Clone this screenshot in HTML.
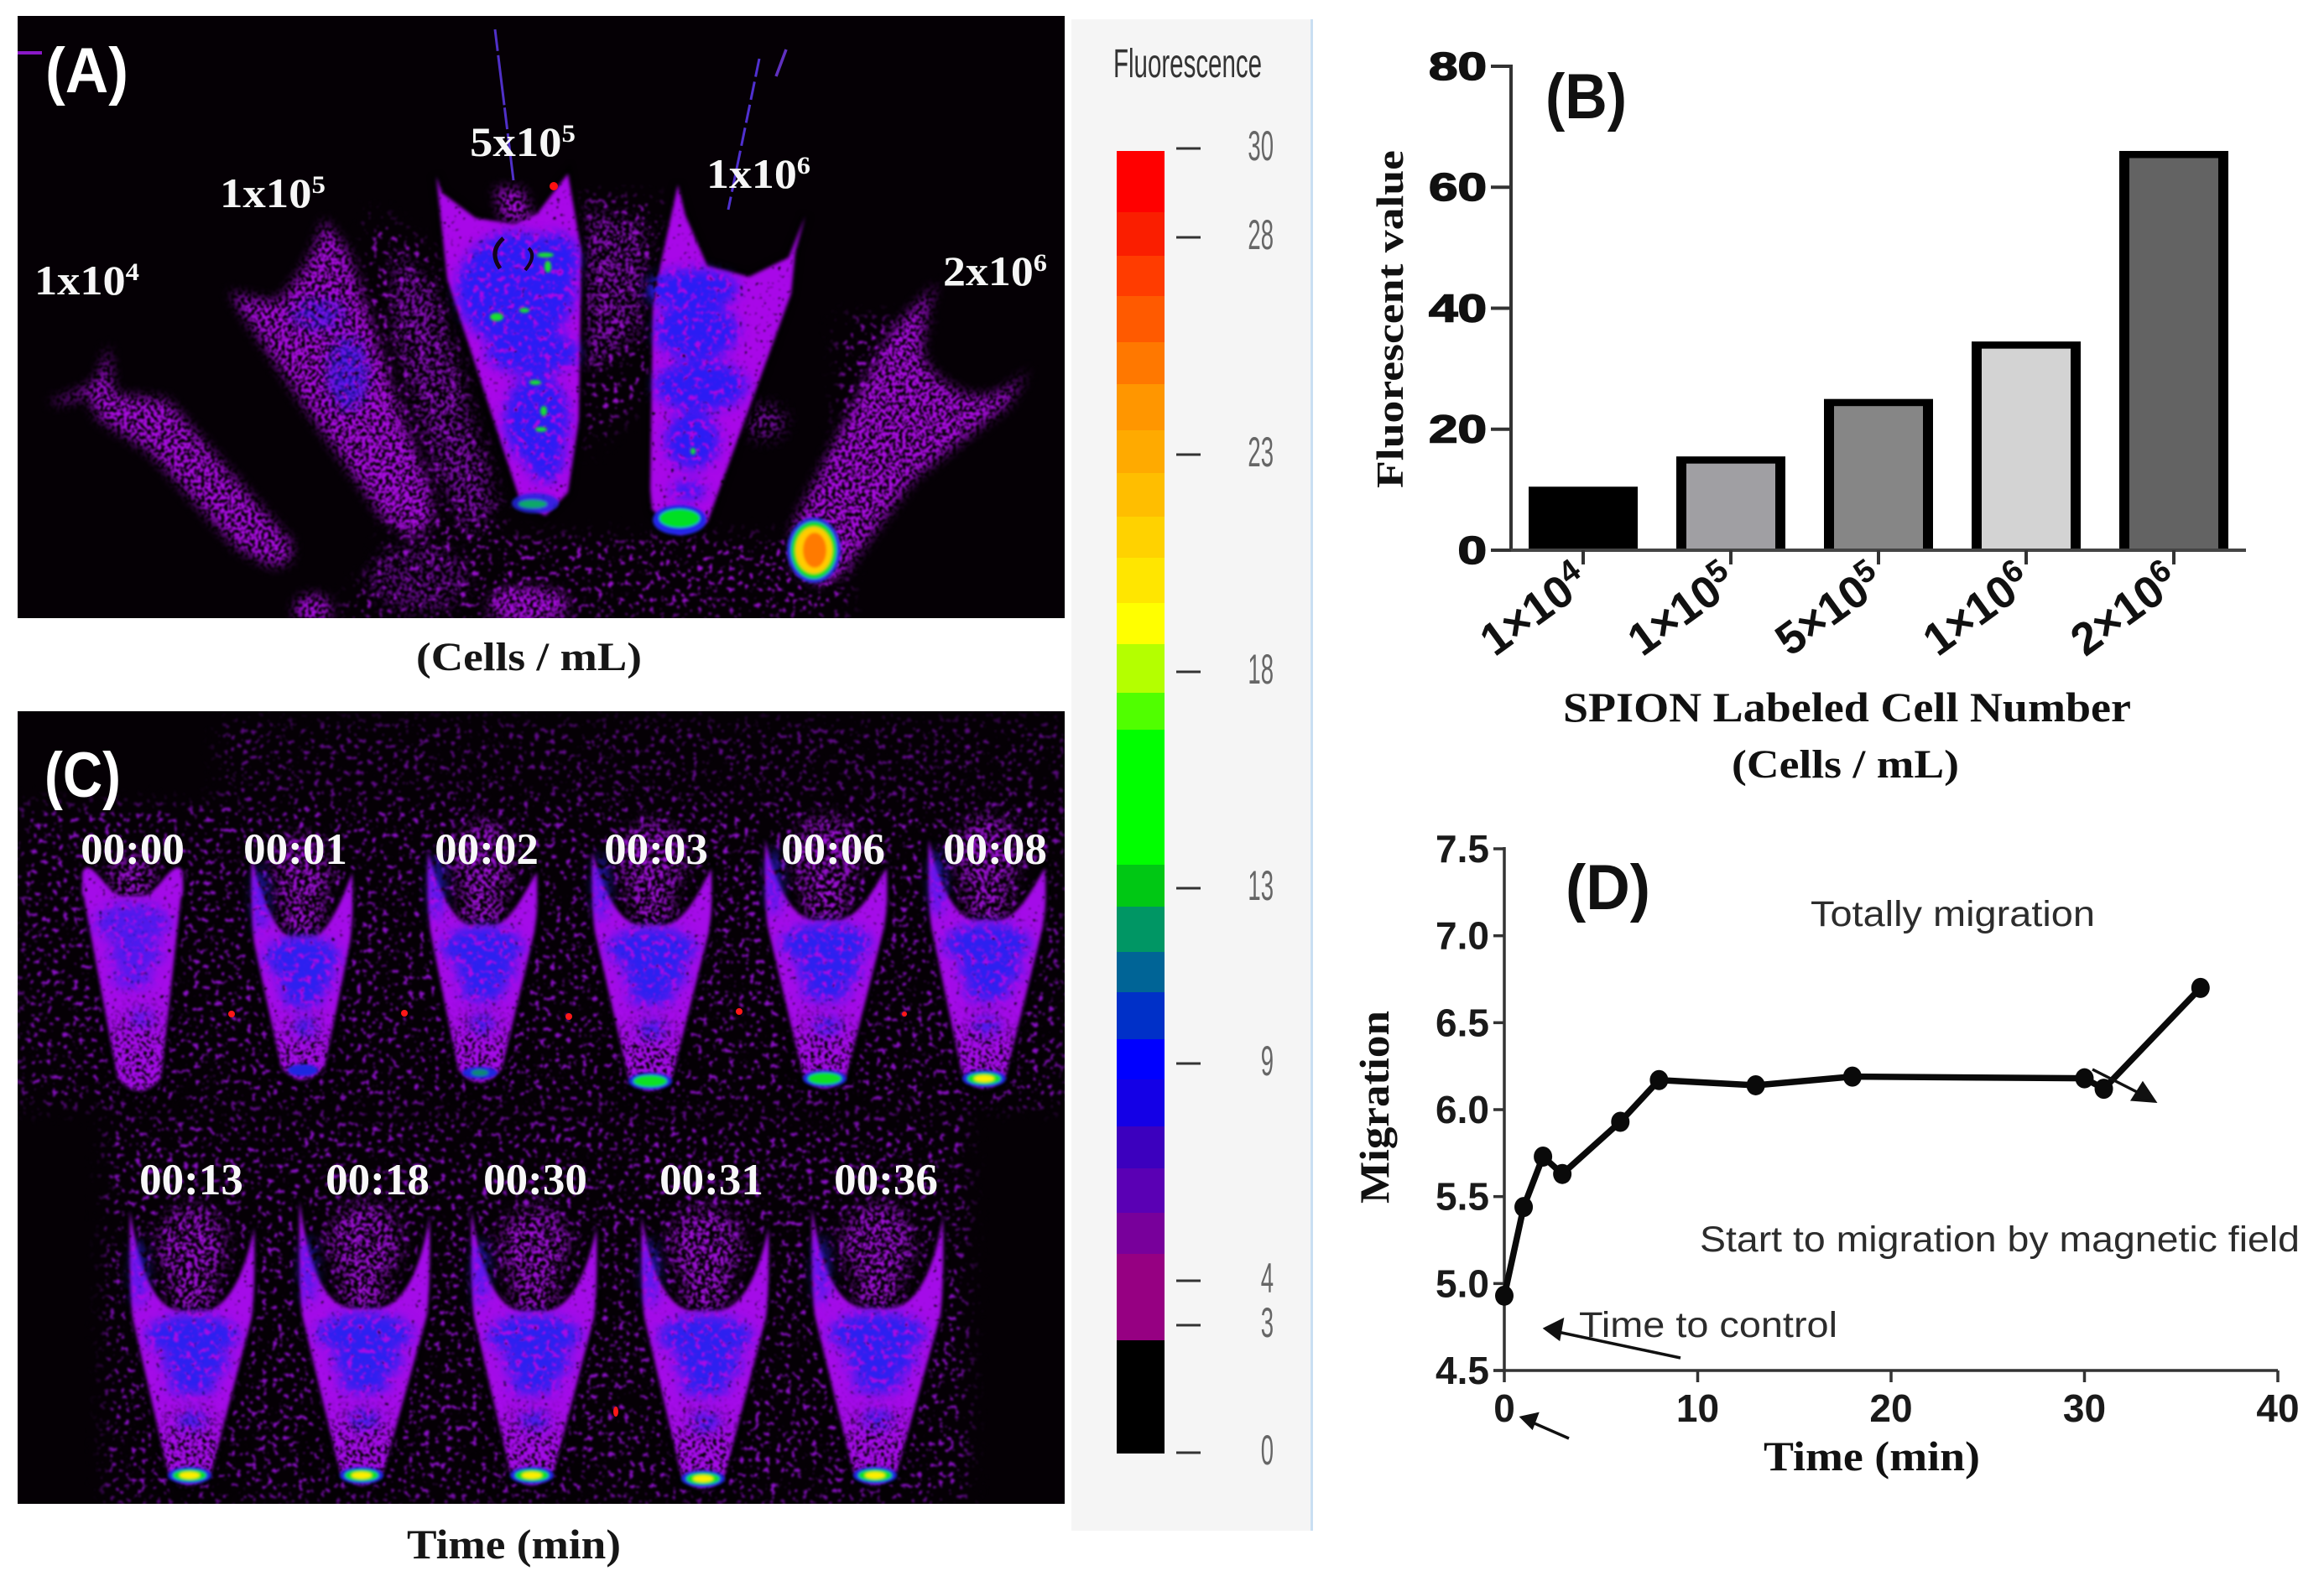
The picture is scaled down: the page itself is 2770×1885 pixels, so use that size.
<!DOCTYPE html>
<html lang="en">
<head>
<meta charset="utf-8">
<title>SPION labeled cell fluorescence and migration</title>
<style>
html,body{margin:0;padding:0;background:#fff;}
svg{display:block;}
.ser{font-family:"Liberation Serif",serif;font-weight:bold;}
.san{font-family:"Liberation Sans",sans-serif;}
</style>
</head>
<body>
<svg id="figure" xmlns="http://www.w3.org/2000/svg" width="2770" height="1885" viewBox="0 0 2770 1885">
<defs>
  <clipPath id="clipA"><rect x="21" y="19" width="1248" height="718"/></clipPath>
  <clipPath id="clipC"><rect x="21" y="848" width="1248" height="945"/></clipPath>
  <filter id="fDense" x="-5%" y="-5%" width="110%" height="110%" color-interpolation-filters="sRGB">
    <feGaussianBlur in="SourceGraphic" stdDeviation="1.8" result="b"/>
    <feTurbulence type="fractalNoise" baseFrequency="0.22" numOctaves="2" seed="4" result="n"/>
    <feColorMatrix in="n" type="matrix" values="0 0 0 0 0 0 0 0 0 0 0 0 0 0 0 9 0 0 0 -1.9" result="m"/>
    <feComposite in="b" in2="m" operator="in"/>
    <feGaussianBlur stdDeviation="1.1"/>
  </filter>
  <filter id="fMedium" x="-5%" y="-5%" width="110%" height="110%" color-interpolation-filters="sRGB">
    <feGaussianBlur in="SourceGraphic" stdDeviation="7" result="b"/>
    <feTurbulence type="fractalNoise" baseFrequency="0.25" numOctaves="2" seed="9" result="n"/>
    <feColorMatrix in="n" type="matrix" values="0 0 0 0 0 0 0 0 0 0 0 0 0 0 0 10 0 0 0 -4.3" result="m"/>
    <feComposite in="b" in2="m" operator="in"/>
    <feGaussianBlur stdDeviation="1.1"/>
  </filter>
  <filter id="fCloud" x="-8%" y="-8%" width="116%" height="116%" color-interpolation-filters="sRGB">
    <feGaussianBlur in="SourceGraphic" stdDeviation="9" result="b"/>
    <feTurbulence type="fractalNoise" baseFrequency="0.22" numOctaves="2" seed="12" result="n"/>
    <feColorMatrix in="n" type="matrix" values="0 0 0 0 0 0 0 0 0 0 0 0 0 0 0 12 0 0 0 -5.9" result="m"/>
    <feComposite in="b" in2="m" operator="in"/>
    <feGaussianBlur stdDeviation="1.1"/>
  </filter>
  <filter id="fFade" x="-10%" y="-10%" width="120%" height="120%" color-interpolation-filters="sRGB">
    <feGaussianBlur in="SourceGraphic" stdDeviation="14" result="b"/>
    <feTurbulence type="fractalNoise" baseFrequency="0.24" numOctaves="2" seed="31" result="n"/>
    <feColorMatrix in="n" type="matrix" values="0 0 0 0 0 0 0 0 0 0 0 0 0 0 0 12 0 0 0 -6.4" result="m"/>
    <feComposite in="b" in2="m" operator="in"/>
    <feGaussianBlur stdDeviation="1"/>
  </filter>
  <filter id="fSparse" x="-2%" y="-2%" width="104%" height="104%" color-interpolation-filters="sRGB">
    <feGaussianBlur in="SourceGraphic" stdDeviation="10" result="b"/>
    <feTurbulence type="fractalNoise" baseFrequency="0.16" numOctaves="2" seed="15" result="n"/>
    <feColorMatrix in="n" type="matrix" values="0 0 0 0 0 0 0 0 0 0 0 0 0 0 0 14 0 0 0 -8.6" result="m"/>
    <feComposite in="b" in2="m" operator="in"/>
    <feGaussianBlur stdDeviation="1.2"/>
  </filter>
  <filter id="fBlue" x="-10%" y="-10%" width="120%" height="120%" color-interpolation-filters="sRGB">
    <feGaussianBlur in="SourceGraphic" stdDeviation="7" result="b"/>
    <feTurbulence type="fractalNoise" baseFrequency="0.14" numOctaves="2" seed="21" result="n"/>
    <feColorMatrix in="n" type="matrix" values="0 0 0 0 0 0 0 0 0 0 0 0 0 0 0 6 0 0 0 -1.9" result="m"/>
    <feComposite in="b" in2="m" operator="in"/>
    <feGaussianBlur stdDeviation="1"/>
  </filter>
  <filter id="fSoft" x="-20%" y="-20%" width="140%" height="140%"><feGaussianBlur stdDeviation="1.6"/></filter>
  <filter id="fHalo" x="-5%" y="-5%" width="110%" height="110%"><feGaussianBlur stdDeviation="3"/></filter>
</defs>

<rect width="2770" height="1885" fill="#ffffff"/>

<!-- colour scale panel -->
<g id="scale-panel">
  <rect x="1277" y="23" width="288" height="1802" fill="#f5f5f5"/>
  <rect x="1562" y="23" width="3" height="1802" fill="#c9def2"/>
  <text class="san" x="1327" y="92" font-size="48" fill="#333" textLength="177" lengthAdjust="spacingAndGlyphs">Fluorescence</text>
  <g id="scale-bands"></g>
  <g id="scale-ticks"></g>
</g>

<!-- panel A -->
<g id="panel-a" clip-path="url(#clipA)">
  <rect x="21" y="19" width="1248" height="718" fill="#050005"/>
  <g filter="url(#fCloud)" fill="#8a10c0" opacity="0.85">
    <path d="M470,300 L515,340 L590,600 L560,640 L520,560 L470,400Z"/>
    <path d="M700,250 L770,270 L760,400 L700,440Z"/>
    <ellipse cx="912" cy="503" rx="24" ry="20"/>
    <ellipse cx="500" cy="690" rx="60" ry="40" opacity="0.7"/>
  </g>
  <g filter="url(#fSparse)" fill="#9a10d0">
    <path d="M440,250 L520,300 L600,620 L560,737 L480,700 L420,500Z"/>
    <path d="M695,230 L790,240 L780,460 L700,540Z"/>
    <path d="M470,640 H1010 V737 H400Z"/>
    <path d="M1000,380 L1110,380 L1000,560Z"/>
  </g>
  <path d="M590,35 L612,215" stroke="#5030c8" stroke-width="3" stroke-dasharray="26 5 60 3" fill="none"/>
  <path d="M905,70 L868,250" stroke="#5030d0" stroke-width="3" stroke-dasharray="22 6" fill="none"/>
  <path d="M937,59 L925,91" stroke="#6030c0" stroke-width="3.5" fill="none"/>
  <path d="M21,63 H50" stroke="#8a18c8" stroke-width="4" fill="none"/>

  <g fill="#000" stroke="#000" stroke-width="10" filter="url(#fHalo)">
    <path d="M520,210 L533,333 L620,597 L650,615 L677,587 L690,500 L693,300 L677,207 L663,225 L640,255 L613,267 L567,260 L527,230Z"/>
    <path d="M808,220 L787,317 L778,367 L775,583 L777,607 L810,638 L843,623 L943,350 L948,300 L960,257 L940,307 L893,330 L843,317 L817,257Z"/>
  </g>
  <g filter="url(#fDense)" fill="#a808e8">
    <path d="M520,210 L533,333 L620,597 L650,615 L677,587 L690,500 L693,300 L677,207 L663,225 L640,255 L613,267 L567,260 L527,230Z"/>
    <path d="M808,220 L787,317 L778,367 L775,583 L777,607 L810,638 L843,623 L943,350 L948,300 L960,257 L940,307 L893,330 L843,317 L817,257Z"/>
  </g>
  <g filter="url(#fMedium)" fill="#a80ce0">
    <path d="M590,225 L600,265 L635,262 L622,225Z"/>
    <path d="M386,262 L415,300 L470,470 L514,589 L515,625 L489,640 L456,616 L360,480 L290,375 L274,348 Q305,358 332,359 Q375,310 386,262Z"/>
    <path d="M345,360 L400,320 L490,560 L470,610 L400,500Z"/>
    <path d="M129,412 L135,470 L199,477 L280,570 L348,648 L345,670 L323,675 L282,653 L180,540 L116,498 L105,470 Q75,485 58,479 Q95,470 118,450Z"/>
    <path d="M1227,439 Q1195,478 1153,471 Q1105,450 1099,418 Q1100,370 1119,337 L1061,396 L945,627 L945,680 L975,696 L1003,686 L1090,570 L1202,482Z"/>
    <path d="M1085,420 L1130,480 L1080,570 L990,660 L960,630Z"/>
    <ellipse cx="630" cy="722" rx="48" ry="22"/>
    <ellipse cx="373" cy="727" rx="22" ry="18"/>
  </g>
  <g filter="url(#fBlue)" fill="#2a1cf4">
    <ellipse cx="615" cy="345" rx="70" ry="68"/>
    <ellipse cx="660" cy="310" rx="30" ry="32"/>
    <ellipse cx="635" cy="420" rx="55" ry="26"/>
    <ellipse cx="640" cy="500" rx="38" ry="54"/>
    <ellipse cx="650" cy="545" rx="22" ry="30"/>
    <ellipse cx="825" cy="345" rx="55" ry="24"/>
    <ellipse cx="830" cy="395" rx="50" ry="34"/>
    <ellipse cx="835" cy="460" rx="55" ry="30"/>
    <ellipse cx="825" cy="525" rx="32" ry="34"/>
    <ellipse cx="820" cy="585" rx="20" ry="10"/>
    <ellipse cx="415" cy="445" rx="24" ry="44" opacity="0.6"/>
    <ellipse cx="380" cy="375" rx="32" ry="18" opacity="0.5"/>
  </g>
  <g filter="url(#fSoft)">
    <ellipse cx="638" cy="600" rx="28" ry="12" fill="#2424e0" opacity="0.85"/>
    <ellipse cx="635" cy="601" rx="17" ry="5" fill="#10a868"/>
    <ellipse cx="810" cy="620" rx="32" ry="18" fill="#2028e8"/>
    <ellipse cx="810" cy="618" rx="24" ry="11" fill="#00e020"/>
    <ellipse cx="970" cy="656" rx="32" ry="39" fill="#2a30e0"/>
    <ellipse cx="970" cy="656" rx="27" ry="34" fill="#10dc20"/>
    <ellipse cx="970" cy="656" rx="22" ry="28" fill="#ffcc00"/>
    <ellipse cx="971" cy="656" rx="14" ry="21" fill="#ff7a00"/>
  </g>
  <g fill="#12e030" filter="url(#fSoft)">
    <ellipse cx="650" cy="304" rx="10" ry="3"/>
    <ellipse cx="653" cy="318" rx="4" ry="7"/>
    <ellipse cx="592" cy="378" rx="8" ry="5"/>
    <ellipse cx="625" cy="370" rx="6" ry="3"/>
    <ellipse cx="638" cy="456" rx="7" ry="3"/>
    <ellipse cx="648" cy="490" rx="4" ry="6"/>
    <ellipse cx="645" cy="512" rx="7" ry="3"/>
    <ellipse cx="826" cy="538" rx="3" ry="4"/>
  </g>
  <ellipse cx="660" cy="222" rx="5" ry="5" fill="#ff1010"/>
  <path d="M600,284 Q582,300 596,320" stroke="#12041c" stroke-width="5" fill="none"/>
  <path d="M630,296 Q640,305 626,322" stroke="#12041c" stroke-width="4" fill="none"/>
  <g class="ser" font-size="50" fill="#f6f6f6">
    <text x="41" y="351" textLength="125" lengthAdjust="spacingAndGlyphs">1x10<tspan dy="-17" font-size="30">4</tspan></text>
    <text x="262" y="247" textLength="126" lengthAdjust="spacingAndGlyphs">1x10<tspan dy="-17" font-size="30">5</tspan></text>
    <text x="560" y="186" textLength="126" lengthAdjust="spacingAndGlyphs">5x10<tspan dy="-17" font-size="30">5</tspan></text>
    <text x="842" y="224" textLength="124" lengthAdjust="spacingAndGlyphs">1x10<tspan dy="-17" font-size="30">6</tspan></text>
    <text x="1124" y="340" textLength="124" lengthAdjust="spacingAndGlyphs">2x10<tspan dy="-17" font-size="30">6</tspan></text>
  </g>
  <text class="san" font-weight="bold" x="54" y="110" font-size="76" fill="#fff" textLength="99" lengthAdjust="spacingAndGlyphs">(A)</text>
</g>
<text class="ser" x="496" y="799" font-size="48" fill="#161616" textLength="269" lengthAdjust="spacingAndGlyphs">(Cells / mL)</text>

<!-- panel C -->
<g id="panel-c" clip-path="url(#clipC)">
  <rect x="21" y="848" width="1248" height="945" fill="#050005"/>
  <g filter="url(#fSparse)" fill="#8c10c8">
    <rect x="21" y="960" width="1248" height="360"/>
    <rect x="125" y="1330" width="1030" height="463"/>
    <rect x="260" y="860" width="1010" height="100" opacity="0.7"/>
  </g>
  <g id="c-halos" fill="#000" stroke="#000" stroke-width="10" filter="url(#fHalo)"></g>
  <g id="c-bodies" fill="#a40ce8" filter="url(#fDense)"></g>
  <g id="c-fade" fill="#000" filter="url(#fFade)"></g>
  <g id="c-clouds" fill="#9c10d4" filter="url(#fCloud)"></g>
  <g id="c-blue" fill="#2c20f0" filter="url(#fBlue)"></g>
  <g id="c-hot" filter="url(#fSoft)"></g>
  <g fill="#ff1818">
    <circle cx="276" cy="1209" r="4"/>
    <circle cx="482" cy="1208" r="4"/>
    <circle cx="678" cy="1212" r="4"/>
    <circle cx="881" cy="1206" r="4"/>
    <circle cx="1078" cy="1209" r="3"/>
    <ellipse cx="734" cy="1683" rx="3" ry="6"/>
  </g>
  <g id="c-labels" class="ser" font-size="53" fill="#f8f8f8" text-anchor="middle"></g>
  <text class="san" font-weight="bold" x="53" y="950" font-size="76" fill="#fff" textLength="91" lengthAdjust="spacingAndGlyphs">(C)</text>
</g>
<text class="ser" x="485" y="1858" font-size="50" fill="#161616" textLength="255" lengthAdjust="spacingAndGlyphs">Time (min)</text>

<!-- panel B chart -->
<g id="chart-b">
  <g id="b-bars"></g>
  <g id="b-axes"></g>
  <text class="san" font-weight="bold" x="1842" y="141" font-size="76" fill="#111" textLength="97" lengthAdjust="spacingAndGlyphs">(B)</text>
  <text class="ser" transform="translate(1672,582) rotate(-90)" font-size="46" fill="#111" textLength="403" lengthAdjust="spacingAndGlyphs">Fluorescent value</text>
  <text class="ser" x="1863" y="860" font-size="50" fill="#111" textLength="677" lengthAdjust="spacingAndGlyphs">SPION Labeled Cell Number</text>
  <text class="ser" x="2064" y="927" font-size="48" fill="#111" textLength="271" lengthAdjust="spacingAndGlyphs">(Cells / mL)</text>
</g>

<!-- panel D chart -->
<g id="chart-d">
  <g id="d-axes"></g>
  <g id="d-series"></g>
  <text class="san" font-weight="bold" x="1866" y="1084" font-size="76" fill="#111" textLength="101" lengthAdjust="spacingAndGlyphs">(D)</text>
  <text class="ser" transform="translate(1655,1435) rotate(-90)" font-size="50" fill="#111" textLength="230" lengthAdjust="spacingAndGlyphs">Migration</text>
  <text class="ser" x="2102" y="1753" font-size="50" fill="#111" textLength="258" lengthAdjust="spacingAndGlyphs">Time (min)</text>
  <g class="san" font-size="43" fill="#2c2c2c">
    <text x="2158" y="1104" textLength="339" lengthAdjust="spacingAndGlyphs">Totally migration</text>
    <text x="2026" y="1492" textLength="715" lengthAdjust="spacingAndGlyphs">Start to migration by magnetic field</text>
    <text x="1882" y="1594" textLength="308" lengthAdjust="spacingAndGlyphs">Time to control</text>
  </g>
  <g stroke="#111" stroke-width="3.5" fill="#111">
    <line x1="2003" y1="1619" x2="1852" y2="1587"/>
    <polygon points="1842,1584 1862,1574 1858,1596"/>
    <line x1="1870" y1="1715" x2="1822" y2="1694"/>
    <polygon points="1814,1690 1832,1686 1826,1702"/>
    <line x1="2494" y1="1275" x2="2555" y2="1306"/>
    <polygon points="2568,1313 2542,1311 2554,1292"/>
  </g>
</g>

<script>
var NS = 'http://www.w3.org/2000/svg';

/* ---------- colour scale ---------- */
var scaleColors = ['#ff0000','#fa1e00','#ff3c00','#ff5a00','#ff7800','#ff9600','#ffaa00','#ffbe00','#ffd200','#ffe600','#ffff00','#b4ff00','#50ff00','#00ff00','#00c814','#009664','#006496','#0030c8','#0000ff','#1400e6','#3c00be','#5a00b4','#78009b','#960082','#000000'];
var scaleEdges = [180,253,305,353,408,458,513,564,616,665,719,768,826,870,1031,1081,1135,1183,1239,1287,1343,1393,1446,1495,1598,1733];
var scaleTickValues = ['30','28','23','18','13','9','4','3','0'];
var scaleTickYs = [177,283,542,801,1059,1268,1527,1580,1732];

var bandsG = document.getElementById('scale-bands');
scaleColors.forEach(function (c, i) {
  var r = document.createElementNS(NS, 'rect');
  
  
  r.setAttribute('x', 1331);
  r.setAttribute('y', scaleEdges[i]);
  r.setAttribute('width', 57);
  r.setAttribute('height', scaleEdges[i + 1] - scaleEdges[i]);
  r.setAttribute('fill', c);
  bandsG.appendChild(r);
});
var ticksG = document.getElementById('scale-ticks');
scaleTickValues.forEach(function (v, i) {
  var l = document.createElementNS(NS, 'rect');
  
  
  l.setAttribute('x', 1402);
  l.setAttribute('y', scaleTickYs[i] - 1.5);
  l.setAttribute('width', 29);
  l.setAttribute('height', 3);
  l.setAttribute('fill', '#333');
  ticksG.appendChild(l);
  var t = document.createElementNS(NS, 'text');
  
  
  t.setAttribute('class', 'san');
  t.setAttribute('x', 1518);
  t.setAttribute('y', scaleTickYs[i] + 14);
  t.setAttribute('text-anchor', 'end');
  t.setAttribute('font-size', '50');
  t.setAttribute('fill', '#666');
  t.setAttribute('transform', 'translate(1518 0) scale(0.55 1) translate(-1518 0)');
  t.textContent = v;
  ticksG.appendChild(t);
});

/* ---------- panel C tubes (image illustration) ---------- */
function add(parentId, tag, attrs) {
  var e = document.createElementNS(NS, tag);
  for (var k in attrs) e.setAttribute(k, attrs[k]);
  document.getElementById(parentId).appendChild(e);
  return e;
}
function drawTube(label, labelX, labelY, L, R, topL, topR, tipX, tipY, notchY, stage) {
  var mid = (L + R) / 2, W = R - L, h = tipY - notchY;
  var d = 'M' + L + ',' + topL +
    ' C' + (L - 1) + ',' + (topL + 50) + ' ' + L + ',' + (notchY - 15) + ' ' + (L + 3) + ',' + (notchY + 8) +
    ' L' + (tipX - 26) + ',' + (tipY - 18) +
    ' Q' + tipX + ',' + (tipY + 14) + ' ' + (tipX + 26) + ',' + (tipY - 18) +
    ' L' + (R - 3) + ',' + (notchY + 8) +
    ' C' + R + ',' + (notchY - 15) + ' ' + (R + 1) + ',' + (topR + 50) + ' ' + R + ',' + topR +
    ' C' + (R - 10) + ',' + (notchY - 50) + ' ' + (R - 30) + ',' + notchY + ' ' + (mid + 12) + ',' + notchY +
    ' L' + (mid - 12) + ',' + notchY +
    ' C' + (L + 30) + ',' + notchY + ' ' + (L + 10) + ',' + (notchY - 50) + ' ' + L + ',' + topL + 'Z';

  var halo = add('c-halos', 'path', { d: d });
  
  

  var body = add('c-bodies', 'path', { d: d });
  
  

  var fade = add('c-fade', 'ellipse', { cx: tipX, cy: tipY - h * 0.2, rx: W * 0.3, ry: h * 0.22 });
  
  

  if (stage > 0) {
    var cloud = add('c-clouds', 'ellipse', { cx: mid, cy: notchY - 78, rx: W * 0.27, ry: 46 });
    
    

    var wing = add('c-blue', 'ellipse', { cx: L + 11, cy: notchY - 45, rx: 9, ry: 40, opacity: 0.7 });
    
    
  }

  var stem = add('c-clouds', 'ellipse', { cx: mid, cy: notchY - 22, rx: 26, ry: 30 });
  
  

  var strength = stage < 1 ? 0.7 : 1;
  var bandA = add('c-blue', 'ellipse', { cx: mid, cy: notchY + h * 0.14, rx: W * 0.37, ry: 24, opacity: strength });
  
  

  var bandB = add('c-blue', 'ellipse', { cx: mid + 4, cy: notchY + h * 0.3, rx: W * 0.27, ry: 17, opacity: strength });
  
  

  var bandC = add('c-blue', 'ellipse', { cx: mid, cy: notchY + h * 0.42, rx: W * 0.2, ry: 11, opacity: strength });
  
  

  var bandD = add('c-blue', 'ellipse', { cx: tipX + 3, cy: notchY + h * 0.62, rx: W * 0.11, ry: 10, opacity: strength * 0.85 });
  
  

  var hotY = tipY - 14;
  if (stage >= 1) {
    var hb = add('c-hot', 'ellipse', { cx: tipX, cy: hotY, rx: stage >= 3 ? 26 : 15 + stage * 3, ry: stage >= 3 ? 10 : 7, fill: '#1e28e0' });
    
    
  }
  if (stage >= 2) {
    var hg = add('c-hot', 'ellipse', { cx: tipX, cy: hotY, rx: stage >= 3 ? 20 : 10, ry: stage >= 3 ? 7 : 4, fill: stage >= 3 ? '#10e020' : '#108a70' });
    
    
  }
  if (stage >= 4) {
    var hy = add('c-hot', 'ellipse', { cx: tipX, cy: hotY, rx: 12, ry: 4, fill: '#ffee00' });
    
    
  }
  var t = add('c-labels', 'text', { x: labelX, y: labelY });
  
  
  t.textContent = label;
}
drawTube('00:00', 158, 1030, 98, 218, 1040, 1040, 166, 1303, 1068, 0);
drawTube('00:01', 352, 1030, 300, 420, 1020, 1040, 361, 1290, 1117, 1);
drawTube('00:02', 580, 1030, 510, 640, 1015, 1040, 572, 1293, 1103, 2);
drawTube('00:03', 782, 1030, 706, 848, 1015, 1035, 775, 1303, 1103, 3);
drawTube('00:06', 993, 1030, 912, 1057, 1000, 1035, 983, 1300, 1097, 3);
drawTube('00:08', 1186, 1030, 1107, 1246, 1000, 1035, 1173, 1300, 1097, 4);
drawTube('00:13', 228, 1424, 155, 303, 1442, 1463, 226, 1773, 1563, 4);
drawTube('00:18', 450, 1424, 357, 512, 1430, 1450, 431, 1773, 1560, 4);
drawTube('00:30', 638, 1424, 562, 711, 1442, 1463, 634, 1773, 1563, 4);
drawTube('00:31', 848, 1424, 765, 916, 1450, 1463, 838, 1777, 1563, 4);
drawTube('00:36', 1056, 1424, 968, 1124, 1440, 1450, 1043, 1773, 1560, 4);
</script>

<script>
/* ---------- chart B: bars ---------- */
var barBases = ['1×10', '1×10', '5×10', '1×10', '2×10'];
var barExponents = ['4', '5', '5', '6', '6'];
var barValues = [10.5, 15.5, 25, 34.5, 66];
var barFills = ['#000000', '#a09fa3', '#868686', '#d3d3d3', '#636363'];
var barYTicks = [0, 20, 40, 60, 80];

function barX(i) { return 1887 + i * 176; }
function barY(v) { return 656 - v * (577 / 80); }

(function () {
  var NSB = 'http://www.w3.org/2000/svg';
  var barsG = document.getElementById('b-bars');
  var axesG = document.getElementById('b-axes');
  barValues.forEach(function (v, i) {
    var o = document.createElementNS(NSB, 'rect');
    
    
    o.setAttribute('x', barX(i) - 65);
    o.setAttribute('y', barY(v));
    o.setAttribute('width', 130);
    o.setAttribute('height', barY(0) - barY(v));
    o.setAttribute('fill', '#000');
    barsG.appendChild(o);
    var r = document.createElementNS(NSB, 'rect');
    
    
    r.setAttribute('x', barX(i) - 53);
    r.setAttribute('y', barY(v) + 8.5);
    r.setAttribute('width', 106);
    r.setAttribute('height', barY(0) - barY(v) - 8.5);
    r.setAttribute('fill', barFills[i]);
    barsG.appendChild(r);
  });
  var yAxis = document.createElementNS(NSB, 'line');
  
  
  yAxis.setAttribute('x1', 1801);
  yAxis.setAttribute('x2', 1801);
  yAxis.setAttribute('y1', barY(80) - 2);
  yAxis.setAttribute('y2', barY(0) + 2);
  yAxis.setAttribute('stroke', '#333');
  yAxis.setAttribute('stroke-width', 4);
  axesG.appendChild(yAxis);
  var xAxis = document.createElementNS(NSB, 'line');
  
  
  xAxis.setAttribute('x1', 1777);
  xAxis.setAttribute('x2', 2677);
  xAxis.setAttribute('y1', barY(0));
  xAxis.setAttribute('y2', barY(0));
  xAxis.setAttribute('stroke', '#444');
  xAxis.setAttribute('stroke-width', 4);
  axesG.appendChild(xAxis);
  barYTicks.forEach(function (v) {
    var tk = document.createElementNS(NSB, 'line');
    
    
    tk.setAttribute('x1', 1777);
    tk.setAttribute('x2', 1801);
    tk.setAttribute('y1', barY(v));
    tk.setAttribute('y2', barY(v));
    tk.setAttribute('stroke', '#333');
    tk.setAttribute('stroke-width', 4);
    axesG.appendChild(tk);
    var t = document.createElementNS(NSB, 'text');
    
    
    t.setAttribute('font-family', '"Liberation Sans", sans-serif');
    t.setAttribute('font-weight', 'bold');
    t.setAttribute('font-size', '46');
    t.setAttribute('fill', '#111');
    t.setAttribute('stroke', '#111');
    t.setAttribute('stroke-width', '1.5');
    t.setAttribute('text-anchor', 'end');
    t.setAttribute('x', 1772);
    t.setAttribute('y', barY(v) + 16);
    t.setAttribute('transform', 'translate(1772 0) scale(1.35 1) translate(-1772 0)');
    t.textContent = String(v);
    axesG.appendChild(t);
  });
  barBases.forEach(function (b, i) {
    var tk = document.createElementNS(NSB, 'line');
    
    
    tk.setAttribute('x1', barX(i));
    tk.setAttribute('x2', barX(i));
    tk.setAttribute('y1', barY(0));
    tk.setAttribute('y2', 673);
    tk.setAttribute('stroke', '#333');
    tk.setAttribute('stroke-width', 4);
    axesG.appendChild(tk);
    var t = document.createElementNS(NSB, 'text');
    
    
    t.setAttribute('font-family', '"Liberation Sans", sans-serif');
    t.setAttribute('font-weight', 'bold');
    t.setAttribute('font-size', '54');
    t.setAttribute('fill', '#111');
    t.setAttribute('text-anchor', 'end');
    t.setAttribute('transform', 'translate(' + (barX(i) + 10) + ' 700) rotate(-36)');
    t.appendChild(document.createTextNode(b));
    var s = document.createElementNS(NSB, 'tspan');
    s.setAttribute('dy', '-18');
    s.setAttribute('font-size', '38');
    s.textContent = barExponents[i];
    t.appendChild(s);
    axesG.appendChild(t);
  });
})();
</script>

<script>
/* ---------- chart D: line ---------- */
var timeMinutes = [0, 1, 2, 3, 6, 8, 13, 18, 30, 31, 36];
var migrationValues = [4.93, 5.44, 5.73, 5.63, 5.93, 6.17, 6.14, 6.19, 6.18, 6.12, 6.7];
var lineXTicks = [0, 10, 20, 30, 40];
var lineYTicks = ['4.5', '5.0', '5.5', '6.0', '6.5', '7.0', '7.5'];

function lineX(t) { return 1793 + t * (922 / 40); }
function lineY(v) { return 1634 - (v - 4.5) * (622 / 3); }

(function () {
  var NSD = 'http://www.w3.org/2000/svg';
  var axesG = document.getElementById('d-axes');
  var seriesG = document.getElementById('d-series');
  var yAxis = document.createElementNS(NSD, 'line');
  
  
  yAxis.setAttribute('x1', lineX(0));
  yAxis.setAttribute('x2', lineX(0));
  yAxis.setAttribute('y1', lineY(7.5) - 2);
  yAxis.setAttribute('y2', lineY(4.5) + 2);
  yAxis.setAttribute('stroke', '#333');
  yAxis.setAttribute('stroke-width', 3.5);
  axesG.appendChild(yAxis);
  var xAxis = document.createElementNS(NSD, 'line');
  
  
  xAxis.setAttribute('x1', 1780);
  xAxis.setAttribute('x2', lineX(40));
  xAxis.setAttribute('y1', lineY(4.5));
  xAxis.setAttribute('y2', lineY(4.5));
  xAxis.setAttribute('stroke', '#333');
  xAxis.setAttribute('stroke-width', 3.5);
  axesG.appendChild(xAxis);
  lineYTicks.forEach(function (lab) {
    var v = parseFloat(lab);
    var tk = document.createElementNS(NSD, 'line');
    
    
    tk.setAttribute('x1', 1780);
    tk.setAttribute('x2', lineX(0));
    tk.setAttribute('y1', lineY(v));
    tk.setAttribute('y2', lineY(v));
    tk.setAttribute('stroke', '#333');
    tk.setAttribute('stroke-width', 3.5);
    axesG.appendChild(tk);
    var t = document.createElementNS(NSD, 'text');
    
    
    t.setAttribute('font-family', '"Liberation Sans", sans-serif');
    t.setAttribute('font-weight', 'bold');
    t.setAttribute('font-size', '46');
    t.setAttribute('fill', '#1a1a1a');
    t.setAttribute('text-anchor', 'end');
    t.setAttribute('x', 1775);
    t.setAttribute('y', lineY(v) + 16);
    t.textContent = lab;
    axesG.appendChild(t);
  });
  lineXTicks.forEach(function (v) {
    var tk = document.createElementNS(NSD, 'line');
    
    
    tk.setAttribute('x1', lineX(v));
    tk.setAttribute('x2', lineX(v));
    tk.setAttribute('y1', lineY(4.5));
    tk.setAttribute('y2', lineY(4.5) + 14);
    tk.setAttribute('stroke', '#333');
    tk.setAttribute('stroke-width', 3.5);
    axesG.appendChild(tk);
    var t = document.createElementNS(NSD, 'text');
    
    
    t.setAttribute('font-family', '"Liberation Sans", sans-serif');
    t.setAttribute('font-weight', 'bold');
    t.setAttribute('font-size', '46');
    t.setAttribute('fill', '#1a1a1a');
    t.setAttribute('text-anchor', 'middle');
    t.setAttribute('x', lineX(v));
    t.setAttribute('y', 1695);
    t.textContent = String(v);
    axesG.appendChild(t);
  });
  var pts = timeMinutes.map(function (t, i) { return lineX(t) + ',' + lineY(migrationValues[i]); }).join(' ');
  var pl = document.createElementNS(NSD, 'polyline');
  
  
  pl.setAttribute('points', pts);
  pl.setAttribute('fill', 'none');
  pl.setAttribute('stroke', '#0a0a0a');
  pl.setAttribute('stroke-width', 7.5);
  pl.setAttribute('stroke-linejoin', 'round');
  seriesG.appendChild(pl);
  timeMinutes.forEach(function (t, i) {
    var c = document.createElementNS(NSD, 'ellipse');
    
    
    c.setAttribute('cx', lineX(t));
    c.setAttribute('cy', lineY(migrationValues[i]));
    c.setAttribute('rx', 11);
    c.setAttribute('ry', 12);
    c.setAttribute('fill', '#0a0a0a');
    seriesG.appendChild(c);
  });
})();
</script>
</svg>
</body>
</html>
